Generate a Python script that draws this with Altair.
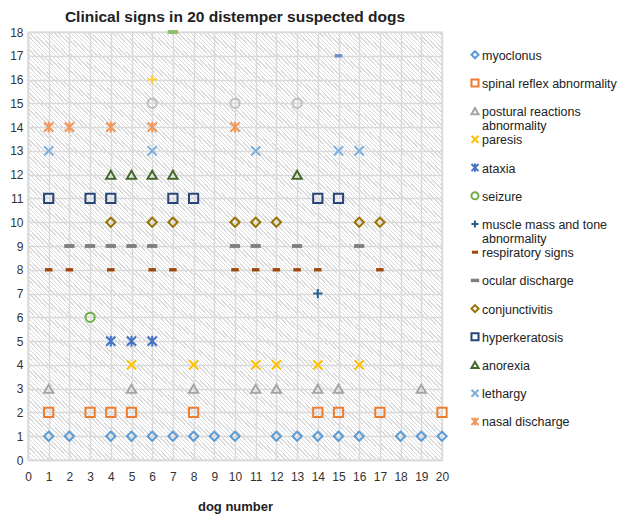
import altair as alt
import pandas as pd

# ---- data -------------------------------------------------------------
sign_names = [
    "myoclonus", "spinal reflex abnormality", "postural reactions abnormality",
    "paresis", "ataxia", "seizure", "muscle mass and tone abnormality",
    "respiratory signs", "ocular discharge", "conjunctivitis", "hyperkeratosis",
    "anorexia", "lethargy", "nasal discharge",
    "extra 15", "extra 16", "extra 17", "extra 18",
]
sign_levels = list(range(1, 19))

myoclonus = [1, 2, 4, 5, 6, 7, 8, 9, 10, 12, 13, 14, 15, 16, 18, 19, 20]
spinal_reflex = [1, 3, 4, 5, 8, 14, 15, 17, 20]
postural = [1, 5, 8, 11, 12, 14, 15, 19]
paresis = [5, 8, 11, 12, 14, 16]
ataxia = [4, 5, 6]
seizure = [3]
muscle = [14]
respiratory = [1, 2, 4, 6, 7, 10, 11, 12, 13, 14, 17]
ocular = [2, 3, 4, 5, 6, 10, 11, 13, 16]
conjunctivitis = [4, 6, 7, 10, 11, 12, 16, 17]
hyperkeratosis = [1, 3, 4, 7, 8, 14, 15]
anorexia = [4, 5, 6, 7, 13]
lethargy = [1, 6, 11, 15, 16]
nasal = [1, 2, 4, 6, 10]
extra15 = [6, 10, 13]
extra16 = [6]
extra17 = [15]
extra18 = [7]

series_dogs = [myoclonus, spinal_reflex, postural, paresis, ataxia, seizure,
               muscle, respiratory, ocular, conjunctivitis, hyperkeratosis,
               anorexia, lethargy, nasal, extra15, extra16, extra17, extra18]

x_ticks = list(range(0, 21))
y_ticks = list(range(0, 19))

# ---- styles -----------------------------------------------------------
X_PATH = "M-1,-1L1,1M-1,1L1,-1"
STAR_PATH = "M-1,-1L1,1M-1,1L1,-1M0,-1.15L0,1.15"
PLUS_PATH = "M-1,0L1,0M0,-1L0,1"
DASH_S = "M-0.6,-0.15L0.6,-0.15L0.6,0.15L-0.6,0.15Z"
DASH_L = "M-0.9,-0.2L0.9,-0.2L0.9,0.2L-0.9,0.2Z"

shapes = ["diamond", "square", "triangle-up", X_PATH, STAR_PATH, "circle",
          PLUS_PATH, DASH_S, DASH_L, "diamond", "square", "triangle-up",
          X_PATH, STAR_PATH, "circle", PLUS_PATH, DASH_S, DASH_L]
colors = ["#5B9BD5", "#ED7D31", "#A5A5A5", "#FFC000", "#4472C4", "#70AD47",
          "#255E91", "#9E480E", "#7F7F7F", "#997300", "#264478", "#43682B",
          "#7CAFDD", "#F1975A", "#BFBFBF", "#FFCD33", "#698ED0", "#8CC168"]

rows = []
for name, level, dogs in zip(sign_names, sign_levels, series_dogs):
    for d in dogs:
        rows.append({"dog": d, "level": level, "sign": name})
df = pd.DataFrame(rows)

legend_df = pd.DataFrame({
    "sign": sign_names[:14],
    "idx": list(range(14)),
    "label": [n if n not in ("postural reactions abnormality",
                             "muscle mass and tone abnormality") else
              n.replace(" abnormality", "\nabnormality") for n in sign_names[:14]],
})

bg_df = pd.DataFrame({"dog": [x_ticks[0]], "dog2": [x_ticks[-1]],
                      "level": [y_ticks[0]], "level2": [y_ticks[-1]]})

shape_scale = alt.Scale(domain=sign_names, range=shapes)
color_scale = alt.Scale(domain=sign_names, range=colors)

# hatch background via hard-stop linear gradient (gaps transparent so grid shows)
stops = []
N = 200
CLEAR = "rgba(255,255,255,0)"
for i in range(N):
    a = i / N
    b = (i + 0.33) / N
    c = (i + 1) / N
    stops += [
        {"offset": round(a, 6), "color": "#dadada"},
        {"offset": round(b, 6), "color": "#dadada"},
        {"offset": round(b, 6), "color": CLEAR},
        {"offset": round(min(c, 1), 6), "color": CLEAR},
    ]
hatch = {"gradient": "linear", "x1": 0, "y1": 1, "x2": 1, "y2": 0, "stops": stops}

FONT = "Liberation Sans"

x_scale = alt.Scale(domain=[0, 20], nice=False)
y_scale = alt.Scale(domain=[0, 18], nice=False)

x_axis = alt.Axis(values=x_ticks, title="dog number", grid=True,
                  gridColor="#d9d9d9", gridWidth=1.4, ticks=False,
                  domainColor="#d9d9d9", domainWidth=1.4,
                  labelFontSize=12, labelFont=FONT, labelColor="#333333",
                  labelPadding=11, titleFont=FONT, titleFontSize=13,
                  titleFontWeight="bold", titleColor="#222222",
                  titlePadding=18, labelFlush=False)
y_axis = alt.Axis(values=y_ticks, title=None, grid=True,
                  gridColor="#d9d9d9", gridWidth=1.4, ticks=False,
                  domainColor="#d9d9d9", domainWidth=1.4,
                  labelFontSize=12, labelFont=FONT, labelColor="#333333",
                  labelPadding=5, labelFlush=False)

bg = alt.Chart(bg_df).mark_rect(fill=hatch, strokeWidth=0).encode(
    x=alt.X("dog:Q", scale=x_scale, axis=x_axis),
    x2="dog2:Q",
    y=alt.Y("level:Q", scale=y_scale, axis=y_axis),
    y2="level2:Q",
)

pts = alt.Chart(df).mark_point(filled=False, strokeWidth=2, size=85, opacity=1).encode(
    x=alt.X("dog:Q", scale=x_scale, axis=x_axis),
    y=alt.Y("level:Q", scale=y_scale, axis=y_axis),
    shape=alt.Shape("sign:N", scale=shape_scale, legend=None),
    color=alt.Color("sign:N", scale=color_scale, legend=None),
)

main = alt.layer(bg, pts).properties(
    width=414, height=428,
    title=alt.Title("Clinical signs in 20 distemper suspected dogs", fontSize=15.5,
                    font=FONT, fontWeight="bold", color="#222222", anchor="middle",
                    frame="group", offset=1),
    view=alt.ViewBackground(stroke="#d9d9d9", strokeWidth=1.4, fill="white"),
)

leg_y = alt.Y("idx:Q", scale=alt.Scale(domain=[-0.806, 14.366], reverse=True), axis=None)
leg_pts = alt.Chart(legend_df).mark_point(filled=False, strokeWidth=2, size=50, opacity=1).encode(
    x=alt.value(14),
    y=leg_y,
    shape=alt.Shape("sign:N", scale=shape_scale, legend=None),
    color=alt.Color("sign:N", scale=color_scale, legend=None),
)
leg_txt = alt.Chart(legend_df).mark_text(
    align="left", baseline="alphabetic", dy=5, fontSize=12.5, font=FONT,
    color="#222222", lineBreak="\n", lineHeight=14).encode(
    x=alt.value(21),
    y=leg_y,
    text="label:N",
)
legend = alt.layer(leg_pts, leg_txt).properties(
    width=120, height=428,
    view=alt.ViewBackground(stroke="transparent", fill="transparent"),
)

chart = alt.hconcat(main, legend, spacing=8).configure(
    background="white", padding={"left": 0, "top": 0, "right": 0, "bottom": 0})

chart.save("out.html", embed_options={"renderer": "svg", "actions": False})
